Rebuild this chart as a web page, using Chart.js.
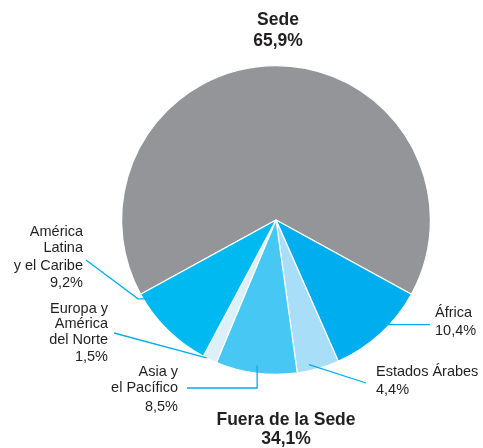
<!DOCTYPE html>
<html>
<head>
<meta charset="utf-8">
<script src="https://cdn.jsdelivr.net/npm/chart.js@4"></script>
<style>
  html, body { margin: 0; padding: 0; background: #fff; }
  #wrap { width: 483px; height: 448px; position: relative; }
</style>
</head>
<body>
<div id="wrap"><canvas id="pie"></canvas></div>
<script>
// datos
const categorias = ['Sede', 'África', 'Estados Árabes', 'Asia y el Pacífico', 'Europa y América del Norte', 'América Latina y el Caribe'];
const porcentajes = [65.9, 10.4, 4.4, 8.5, 1.5, 9.2];
const textoPorcentaje = ['65,9%', '10,4%', '4,4%', '8,5%', '1,5%', '9,2%'];
const colores = ['#939598', '#00AEEF', '#A9DEF8', '#47C7F4', '#DCF0FA', '#00B9F1'];
const fueraTotal = '34,1%';

// etiquetas: lineas de texto, alineacion, posicion, ancla en el sector, trazo de la guia
const etiquetas = [
  null,
  { lineas: ['África', '10,4%'], ys: [313, 331], x: 435, align: 'left', t: 0.5, rf: 0.92, ruta: (p) => [p, [430, p[1]]] },
  { lineas: ['Estados Árabes', '4,4%'], ys: [372, 390], x: 376, align: 'left', t: 0.69, rf: 0.96, ruta: (p) => [p, [366, 383]] },
  { lineas: ['Asia y', 'el Pacífico', '8,5%'], ys: [372, 388, 407], x: 178, align: 'right', t: 0.5, rf: 0.95, ruta: (p) => [p, [p[0], 388], [187, 388]] },
  { lineas: ['Europa y', 'América', 'del Norte', '1,5%'], ys: [309, 324, 340, 357], x: 108, align: 'right', t: 0.74, rf: 1.0, ruta: (p) => [p, [114, 333]] },
  { lineas: ['América', 'Latina', 'y el Caribe', '9,2%'], ys: [232, 248, 266, 283], x: 83, align: 'right', t: 0.85, rf: 0.92, ruta: (p) => [p, [138, p[1]], [86, 260]] }
];

const fuente = '"Liberation Sans", Arial, Helvetica, sans-serif';

const etiquetasPlugin = {
  id: 'etiquetas',
  afterDraw(chart) {
    const ctx = chart.ctx;
    const arcos = chart.getDatasetMeta(0).data;
    ctx.save();
    // guias
    ctx.strokeStyle = '#00AEEF';
    ctx.lineWidth = 1.3;
    for (let i = 0; i < arcos.length; i++) {
      const e = etiquetas[i];
      if (!e) continue;
      const a = arcos[i];
      const ang = a.startAngle + e.t * (a.endAngle - a.startAngle);
      const r = a.outerRadius * e.rf;
      const p = [a.x + Math.cos(ang) * r, a.y + Math.sin(ang) * r];
      const pts = e.ruta(p);
      ctx.beginPath();
      ctx.moveTo(pts[0][0], pts[0][1]);
      for (let k = 1; k < pts.length; k++) ctx.lineTo(pts[k][0], pts[k][1]);
      ctx.stroke();
    }
    // textos
    ctx.fillStyle = '#231F20';
    ctx.textBaseline = 'middle';
    ctx.font = '14.5px ' + fuente;
    for (let i = 0; i < etiquetas.length; i++) {
      const e = etiquetas[i];
      if (!e) continue;
      ctx.textAlign = e.align;
      e.lineas.forEach((l, k) => ctx.fillText(l, e.x, e.ys[k]));
    }
    // titulos
    ctx.textAlign = 'center';
    ctx.font = 'bold 17.5px ' + fuente;
    ctx.fillText(categorias[0], 278, 20);
    ctx.fillText(textoPorcentaje[0], 278, 41);
    ctx.fillText('Fuera de la Sede', 286, 420);
    ctx.fillText(fueraTotal, 286, 439);
    ctx.restore();
  }
};

const total = porcentajes.reduce((s, v) => s + v, 0);
const giro = -(porcentajes[0] / total) * 360 / 2;

new Chart(document.getElementById('pie'), {
  type: 'pie',
  data: {
    labels: categorias,
    datasets: [{
      data: porcentajes,
      backgroundColor: colores,
      borderColor: '#ffffff',
      borderWidth: 1.2
    }]
  },
  options: {
    responsive: true,
    maintainAspectRatio: false,
    animation: false,
    rotation: giro,
    layout: { padding: { top: 65, bottom: 73, left: 121, right: 52 } },
    plugins: {
      legend: { display: false },
      tooltip: { enabled: false }
    }
  },
  plugins: [etiquetasPlugin]
});
</script>
</body>
</html>
